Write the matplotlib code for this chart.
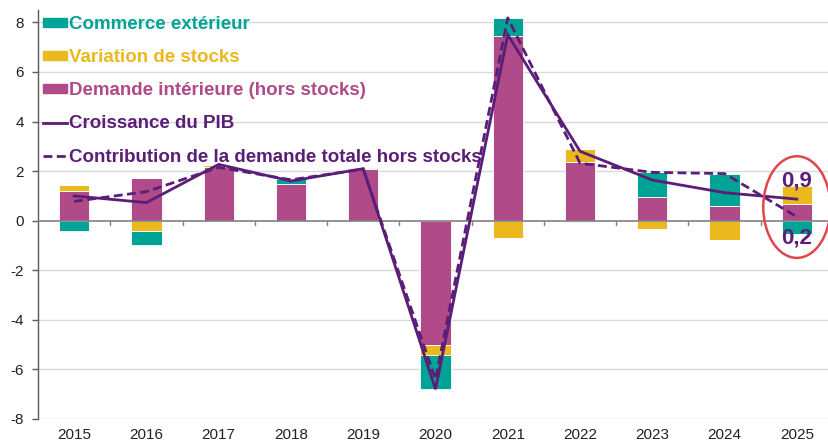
import matplotlib
matplotlib.use("Agg")
import matplotlib.pyplot as plt
from matplotlib.patches import Patch, Ellipse
from matplotlib.lines import Line2D
import numpy as np

plt.rcParams['font.family'] = ['Liberation Sans', 'DejaVu Sans']
plt.rcParams['axes.unicode_minus'] = False

years = ['2015', '2016', '2017', '2018', '2019', '2020', '2021', '2022', '2023', '2024', '2025']
demande = [1.20, 1.73, 2.15, 1.49, 2.08, -5.00, 7.47, 2.37, 0.95, 0.58, 0.68]
stocks = [0.23, -0.41, 0.10, -0.02, 0.00, -0.40, -0.68, 0.52, -0.33, -0.76, 0.72]
commerce = [-0.40, -0.57, -0.02, 0.18, 0.04, -1.37, 0.71, -0.07, 1.00, 1.31, -0.52]
pib = [1.00, 0.73, 2.27, 1.60, 2.10, -6.80, 7.50, 2.80, 1.64, 1.13, 0.87]
contrib = [0.78, 1.17, 2.15, 1.65, 2.08, -6.40, 8.18, 2.32, 1.95, 1.90, 0.16]
yticks = [-8, -6, -4, -2, 0, 2, 4, 6, 8]
labels = ['Commerce extérieur', 'Variation de stocks', 'Demande intérieure (hors stocks)',
          'Croissance du PIB', 'Contribution de la demande totale hors stocks']
annot_hi = '0,9'
annot_lo = '0,2'

C_COM = '#00A396'
C_STK = '#EBB81E'
C_DEM = '#B04A88'
C_LINE = '#5A1E78'
C_RED = '#E0474C'

W, H = 829, 443
fig = plt.figure(figsize=(W / 100, H / 100), dpi=100)
ax = fig.add_axes([38 / W, 24 / H, 795 / W, 409 / H])

x = np.arange(len(years))
bw = 0.42
pos_base = np.zeros(len(years))
neg_base = np.zeros(len(years))
for vals, col in [(demande, C_DEM), (stocks, C_STK), (commerce, C_COM)]:
    v = np.array(vals)
    pos = np.where(v > 0, v, 0)
    neg = np.where(v < 0, v, 0)
    ax.bar(x, pos, bw, bottom=pos_base, color=col, edgecolor='white', linewidth=0.6, zorder=2)
    ax.bar(x, neg, bw, bottom=neg_base, color=col, edgecolor='white', linewidth=0.6, zorder=2)
    pos_base += pos
    neg_base += neg

ax.plot(x, pib, color=C_LINE, lw=2.0, zorder=4, solid_joinstyle='miter')
ax.plot(x, contrib, color=C_LINE, lw=2.0, ls=(0, (3.2, 1.6)), zorder=4)

ax.set_xlim(-0.5, len(years) - 0.5)
ax.set_ylim(-8, 8.5)
ax.set_yticks(yticks)
ax.set_yticklabels([str(t) for t in yticks])
for t in yticks:
    if t != 0:
        ax.axhline(t, color='#D9D9D9', lw=1.0, zorder=0)
ax.axhline(0, color='#808080', lw=1.2, zorder=3)
# category boundary ticks on the zero line
for b in np.arange(0.5, len(years) - 0.5, 1.0):
    ax.plot([b, b], [0, -0.17], color='#808080', lw=1.0, zorder=3, clip_on=False)

ax.set_xticks(x)
ax.set_xticklabels(years)
ax.tick_params(axis='x', length=0, pad=6.5, labelsize=11, labelcolor='#222222')
ax.tick_params(axis='y', length=4, width=1, color='#595959', pad=6, labelsize=11, labelcolor='#222222')
for s in ['top', 'right', 'bottom']:
    ax.spines[s].set_visible(False)
ax.spines['left'].set_color('#595959')
ax.spines['left'].set_linewidth(1.0)

handles = [Patch(color=C_COM), Patch(color=C_STK), Patch(color=C_DEM),
           Line2D([], [], color=C_LINE, lw=2.0),
           Line2D([], [], color=C_LINE, lw=2.0, ls=(0, (3.2, 1.6)))]
leg = ax.legend(handles, labels, loc='upper left', bbox_to_anchor=(43 / W, 1 - 16 / H),
                bbox_transform=fig.transFigure, frameon=False,
                handlelength=1.28, handleheight=0.4, handletextpad=0.1,
                labelspacing=0.86, borderpad=0, borderaxespad=0,
                prop={'weight': 'bold', 'size': 13.5})
for txt, col in zip(leg.get_texts(), [C_COM, C_STK, C_DEM, C_LINE, C_LINE]):
    txt.set_color(col)

ax.text(10, 1.62, annot_hi, color=C_LINE, fontsize=16, fontweight='bold',
        ha='center', va='center', zorder=6)
ax.text(10, -0.7, annot_lo, color=C_LINE, fontsize=16, fontweight='bold',
        ha='center', va='center', zorder=6)
ax.add_patch(Ellipse((10, 0.55), 0.93, 4.1, fill=False, edgecolor=C_RED, lw=1.8,
                     zorder=7, clip_on=False))

fig.savefig('out.png', dpi=100)
